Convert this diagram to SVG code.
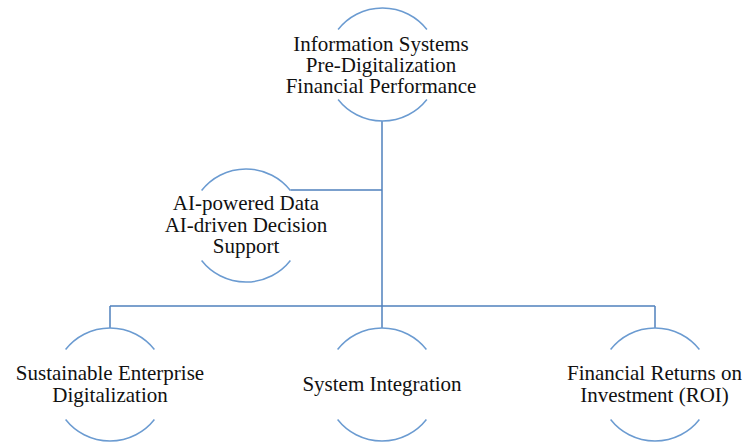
<svg xmlns="http://www.w3.org/2000/svg" width="743" height="442" viewBox="0 0 743 442">
<style>
.arc{fill:none;stroke:#6b9bd1;stroke-width:1.5}
.con{fill:none;stroke:#4f81bd;stroke-width:1.5}
.t{font-family:"Liberation Serif","Times New Roman",serif;font-size:21px;fill:#111111;text-anchor:middle}
</style>
<rect width="743" height="442" fill="#ffffff"/>
<g id="connectors">
<path class="con" d="M382 121 V306"/>
<path class="con" d="M290.5 190 H382"/>
<path class="con" d="M110 306 H655"/>
<path class="con" d="M110 306 V328"/>
<path class="con" d="M382 306 V328"/>
<path class="con" d="M655 306 V328"/>
</g>
<g id="node-top">
<path class="arc" d="M338.1 29.5 A56.5 56.5 0 0 1 426.9 29.5"/>
<path class="arc" d="M338.1 99.5 A56.5 56.5 0 0 0 426.9 99.5"/>
<text class="t" x="381" y="50.5">Information Systems</text>
<text class="t" x="381" y="71.5">Pre-Digitalization</text>
<text class="t" x="381" y="93">Financial Performance</text>
</g>
<g id="node-ai">
<path class="arc" d="M201.6 190.5 A56.5 56.5 0 0 1 290.4 190.5"/>
<path class="arc" d="M201.6 260.5 A56.5 56.5 0 0 0 290.4 260.5"/>
<text class="t" x="246" y="210">AI-powered Data</text>
<text class="t" x="246" y="231.5">AI-driven Decision</text>
<text class="t" x="246" y="253">Support</text>
</g>
<g id="node-sed">
<path class="arc" d="M65.6 349.5 A56.5 56.5 0 0 1 154.4 349.5"/>
<path class="arc" d="M65.6 419.5 A56.5 56.5 0 0 0 154.4 419.5"/>
<text class="t" x="110" y="380">Sustainable Enterprise</text>
<text class="t" x="110" y="402">Digitalization</text>
</g>
<g id="node-si">
<path class="arc" d="M337.6 349.5 A56.5 56.5 0 0 1 426.4 349.5"/>
<path class="arc" d="M337.6 419.5 A56.5 56.5 0 0 0 426.4 419.5"/>
<text class="t" x="382" y="391">System Integration</text>
</g>
<g id="node-roi">
<path class="arc" d="M610.6 349.5 A56.5 56.5 0 0 1 699.4 349.5"/>
<path class="arc" d="M610.6 419.5 A56.5 56.5 0 0 0 699.4 419.5"/>
<text class="t" x="654.5" y="380">Financial Returns on</text>
<text class="t" x="654.5" y="402">Investment (ROI)</text>
</g>
</svg>
